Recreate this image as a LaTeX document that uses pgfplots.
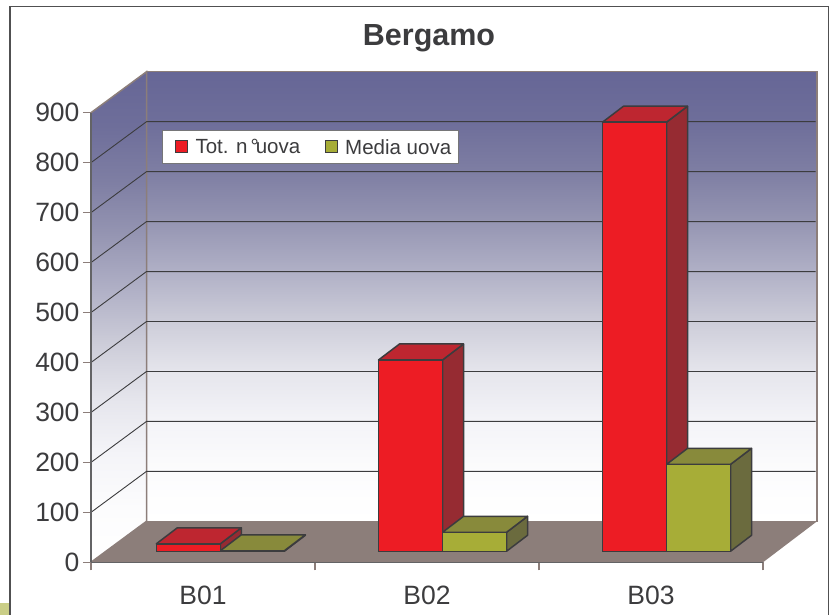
\documentclass[border=0pt]{standalone}
\usepackage{pgfplots}
\pgfplotsset{compat=1.18}
\usepackage{fontspec}
\setmainfont{Liberation Sans}
\definecolor{wallA}{HTML}{666696}
\definecolor{edge}{HTML}{8C7E7A}
\definecolor{ink}{HTML}{3C3C3E}
\definecolor{redF}{HTML}{ED1C24}
\definecolor{redT}{HTML}{BE2630}
\definecolor{redS}{HTML}{962B32}
\definecolor{grnF}{HTML}{A7AD37}
\definecolor{grnT}{HTML}{888A3B}
\definecolor{grnS}{HTML}{6B6B3E}
\definecolor{w0}{HTML}{FFFFFF}
\definecolor{w1}{HTML}{FCFCFD}
\definecolor{w2}{HTML}{F4F4F8}
\definecolor{w3}{HTML}{E5E5EC}
\definecolor{w4}{HTML}{CDCDD9}
\definecolor{w5}{HTML}{B0B0C6}
\definecolor{w6}{HTML}{9595B2}
\definecolor{w7}{HTML}{7E7EA3}
\definecolor{w8}{HTML}{6E6E9A}
\pgfdeclareverticalshading{wall}{100bp}{color(0bp)=(w0);color(25bp)=(w0);color(30.5bp)=(w1);color(36.1bp)=(w2);color(41.7bp)=(w3);color(47.2bp)=(w4);color(52.8bp)=(w5);color(58.4bp)=(w6);color(63.9bp)=(w7);color(69.5bp)=(w8);color(75bp)=(wallA);color(100bp)=(wallA)}
\pgfplotsset{
  face/.style={draw=ink,line width=1.5pt,line join=round,forget plot,xshift=15.5pt,yshift=11pt},
  sq/.style={legend image code/.code={\path[draw=none,fill=none] (0pt,0pt) -- (26pt,0pt);\draw[##1,line width=1.2pt,overlay] (8pt,-16pt) rectangle (20pt,-4pt);}},
}
\begin{document}
\begin{tikzpicture}[x=1pt,y=1pt]
\path[use as bounding box] (0,0) rectangle (835,615);
\fill[fill=grnF!60!white] (0,0) rectangle (10,12);
\draw[color=ink!90,line width=1.3pt] (10,-2) -- (10,608.5) -- (828.5,608.5) -- (828.5,-2);
\begin{axis}[
  at={(91pt,52.7pt)},anchor=south west,
  scale only axis,width=672pt,height=449.6pt,
  xmin=0,xmax=3,ymin=0,ymax=900,
  clip=false,axis on top,
  axis x line=bottom,axis y line=left,
  axis line style={-,color=ink!80,line width=1.2pt},
  xtick={0,1,2,3},xticklabels={B01,B02,B03},x tick label as interval,
  ytick={0,100,...,900},
  tick align=outside,major tick length=8pt,
  tick style={color=edge,line width=1.2pt},
  /pgf/number format/assume math mode=true,
  ticklabel style={font=\fontsize{26.5}{30}\selectfont,text=ink},
  xticklabel style={yshift=-12pt},
  title={\textbf{Bergamo}},
  title style={at={(rel axis cs:0.503,1.153)},anchor=center,font=\fontsize{30.5}{34}\selectfont,text=ink},
  legend cell align=left,legend columns=2,
  legend style={at={(rel axis cs:0.1057,0.9615)},anchor=north west,
    font=\fontsize{20.5}{24}\selectfont,text=ink,draw=ink!70,line width=1pt,
    fill=white,inner xsep=5pt,inner ysep=6pt,
    /tikz/every even column/.append style={column sep=15pt}},
]
% walls and floor
\addplot[forget plot,draw=edge,line width=1.5pt,shade,shading=wall] coordinates {(0.2478,82)(3.241,82)(3.241,982)(0.2478,982)} --cycle;
\addplot[forget plot,draw=edge,line width=1.5pt,shade,shading=wall] coordinates {(0,0)(0,900)(0.2478,982)(0.2478,82)} --cycle;
\addplot[forget plot,draw=none,fill=edge] coordinates {(0,0)(0.2478,82)(3.241,82)(3,0)} --cycle;
% gridlines
\foreach \v/\b in {100/182,200/282,300/382,400/482,500/582,600/682,700/782,800/882}{
  \edef\tmp{\noexpand\addplot[forget plot,draw=ink,line width=0.9pt] coordinates {(0,\v)(0.2478,\b)(3.235,\b)};}
  \tmp
}
% B01
\addplot[face,fill=redS] coordinates {(0.508,0)(0.508,15)(0.6018,47)(0.6018,32)} --cycle;
\addplot[face,fill=redT] coordinates {(0.2223,15)(0.508,15)(0.6018,47)(0.316,47)} --cycle;
\addplot[face,fill=grnS] coordinates {(0.7937,0)(0.7937,1)(0.8875,33)(0.8875,32)} --cycle;
\addplot[face,fill=grnT] coordinates {(0.508,1)(0.7937,1)(0.8875,33)(0.6018,33)} --cycle;
% B02
\addplot[face,fill=redS] coordinates {(1.5,0)(1.5,383)(1.5938,415)(1.5938,32)} --cycle;
\addplot[face,fill=redT] coordinates {(1.2143,383)(1.5,383)(1.5938,415)(1.308,415)} --cycle;
\addplot[face,fill=grnS] coordinates {(1.7857,0)(1.7857,38)(1.8795,70)(1.8795,32)} --cycle;
\addplot[face,fill=grnT] coordinates {(1.5,38)(1.7857,38)(1.8795,70)(1.5938,70)} --cycle;
% B03
\addplot[face,fill=redS] coordinates {(2.5,0)(2.5,859)(2.5938,891)(2.5938,32)} --cycle;
\addplot[face,fill=redT] coordinates {(2.2143,859)(2.5,859)(2.5938,891)(2.308,891)} --cycle;
\addplot[face,fill=grnS] coordinates {(2.7857,0)(2.7857,174)(2.8795,206)(2.8795,32)} --cycle;
\addplot[face,fill=grnT] coordinates {(2.5,174)(2.7857,174)(2.8795,206)(2.5938,206)} --cycle;
% front faces: the values
\addplot[ybar,bar width=64pt,bar shift=-32pt,draw=ink,line width=1.5pt,fill=redF,xshift=15.5pt,yshift=11pt,sq] coordinates {(0.508,15)(1.5,383)(2.5,859)};
\addplot[ybar,bar width=64pt,bar shift=32pt,draw=ink,line width=1.5pt,fill=grnF,xshift=15.5pt,yshift=11pt,sq] coordinates {(0.508,1)(1.5,38)(2.5,174)};
\legend{Tot. n\kern3pt°\kern-3ptuova,Media uova}
\end{axis}
\end{tikzpicture}
\end{document}
